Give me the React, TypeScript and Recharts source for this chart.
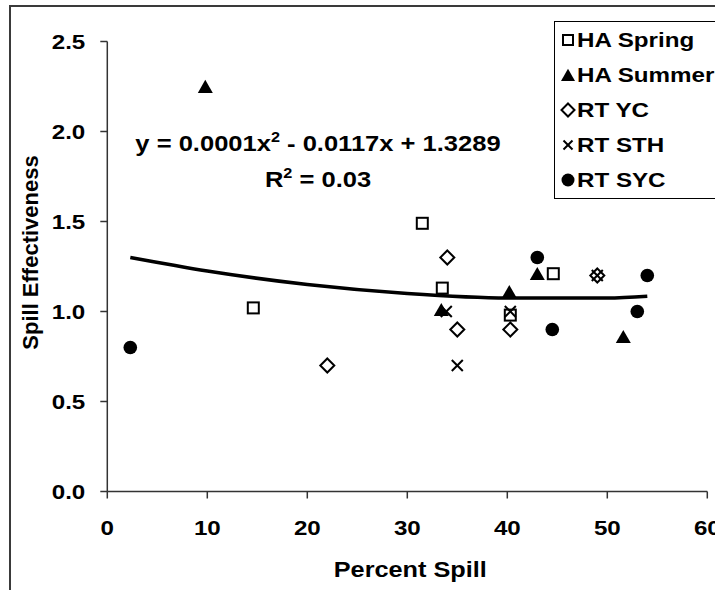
import React from 'react';
import { ComposedChart, Scatter, Line, XAxis, YAxis, Label } from 'recharts';

// values
const haSpringX = [14.6, 31.5, 33.5, 40.3, 44.6];
const haSpringY = [1.02, 1.49, 1.13, 0.98, 1.21];
const haSummerX = [9.8, 33.4, 40.2, 43.0, 51.6];
const haSummerY = [2.25, 1.01, 1.11, 1.21, 0.86];
const rtYcX = [22.0, 34.0, 35.0, 40.3, 49.0];
const rtYcY = [0.7, 1.3, 0.9, 0.9, 1.2];
const rtSthX = [33.9, 35.0, 40.3, 49.0];
const rtSthY = [1.0, 0.7, 1.0, 1.2];
const rtSycX = [2.3, 43.0, 44.5, 53.0, 54.0];
const rtSycY = [0.8, 1.3, 0.9, 1.0, 1.2];

// polynomial trendline
const trendX = [2.3, 10, 20, 30, 40, 50, 54];
const trendY = [1.3, 1.225, 1.15, 1.1, 1.075, 1.075, 1.085];

const seriesNames = ['HA Spring', 'HA Summer', 'RT YC', 'RT STH', 'RT SYC'];
const xTicks = [0, 10, 20, 30, 40, 50, 60];
const yTicks = [0, 0.5, 1, 1.5, 2, 2.5];

const zip = (xs: number[], ys: number[]) => xs.map((x, i) => ({ x, y: ys[i] }));

const FONT = '"Liberation Sans", Arial, sans-serif';
const STRETCH = 1.15;

// marker shapes (Excel style)
const SquareMark = ({ cx, cy, s = 5.5 }: any) => (
    <rect x={cx - s} y={cy - s} width={s * 2} height={s * 2} fill="#fff" stroke="#000" strokeWidth={2} />
);
const TriangleMark = ({ cx, cy, s = 7.5 }: any) => (
    <polygon points={`${cx},${cy - s * 0.9} ${cx + s},${cy + s * 0.85} ${cx - s},${cy + s * 0.85}`} fill="#000" />
);
const DiamondMark = ({ cx, cy, s = 7 }: any) => (
    <polygon
        points={`${cx},${cy - s} ${cx + s},${cy} ${cx},${cy + s} ${cx - s},${cy}`}
        fill="#fff"
        stroke="#000"
        strokeWidth={2}
    />
);
const XMark = ({ cx, cy, s = 5.5 }: any) => (
    <g stroke="#000" strokeWidth={2}>
        <line x1={cx - s} y1={cy - s} x2={cx + s} y2={cy + s} />
        <line x1={cx - s} y1={cy + s} x2={cx + s} y2={cy - s} />
    </g>
);
const CircleMark = ({ cx, cy, s = 6.8 }: any) => <circle cx={cx} cy={cy} r={s} fill="#000" />;

const markers = [SquareMark, TriangleMark, DiamondMark, XMark, CircleMark];
const legendSizes = [5, 7, 6.5, 4.5, 6.5];

const XTick = ({ x, y, payload }: any) => (
    <text
        transform={`translate(${x},${y + 34}) scale(${STRETCH},1)`}
        textAnchor="middle"
        fontSize={21}
        fontWeight="bold"
        fontFamily={FONT}
        fill="#000"
    >
        {payload.value}
    </text>
);

const YTick = ({ x, y, payload }: any) => (
    <text
        transform={`translate(${x},${y + 7.5}) scale(${STRETCH},1)`}
        textAnchor="end"
        fontSize={21}
        fontWeight="bold"
        fontFamily={FONT}
        fill="#000"
    >
        {Number(payload.value).toFixed(1)}
    </text>
);

export default function App() {
    const axisStroke = { stroke: '#333', strokeWidth: 1.5 };

    return (
        <div
            style={{
                position: 'absolute',
                left: 0,
                top: 0,
                width: 715,
                height: 590,
                overflow: 'hidden',
                background: '#fff',
                fontFamily: FONT,
            }}
        >
            {/* chart area border, cropped at right and bottom */}
            <div
                style={{
                    position: 'absolute',
                    left: 9,
                    top: 5,
                    width: 800,
                    height: 700,
                    border: '2px solid #3a3a3a',
                }}
            />

            <ComposedChart
                width={715}
                height={590}
                margin={{ top: 41.5, right: 7.7, bottom: 0, left: 0 }}
                style={{ position: 'absolute', left: 0, top: 0 }}
            >
                <XAxis
                    type="number"
                    dataKey="x"
                    domain={[0, 60]}
                    ticks={xTicks}
                    height={98.5}
                    tickSize={7}
                    tickMargin={2}
                    axisLine={axisStroke}
                    tickLine={axisStroke}
                    tick={<XTick />}
                    interval={0}
                >
                    <Label
                        content={({ viewBox }: any) => (
                            <text
                                transform={`translate(${viewBox.x + viewBox.width / 2 + 3},${viewBox.y + 85}) scale(${STRETCH},1)`}
                                textAnchor="middle"
                                fontSize={22}
                                fontWeight="bold"
                                fontFamily={FONT}
                                fill="#000"
                            >
                                Percent Spill
                            </text>
                        )}
                    />
                </XAxis>
                <YAxis
                    type="number"
                    dataKey="y"
                    domain={[0, 2.5]}
                    ticks={yTicks}
                    width={107.3}
                    tickSize={7}
                    tickMargin={15}
                    axisLine={axisStroke}
                    tickLine={axisStroke}
                    tick={<YTick />}
                    interval={0}
                >
                    <Label
                        content={({ viewBox }: any) => (
                            <text
                                transform={`translate(38,${viewBox.y + viewBox.height / 2 - 14}) rotate(-90)`}
                                textAnchor="middle"
                                fontSize={22}
                                fontWeight="bold"
                                fontFamily={FONT}
                                fill="#000"
                            >
                                Spill Effectiveness
                            </text>
                        )}
                    />
                </YAxis>

                <Line
                    data={zip(trendX, trendY)}
                    dataKey="y"
                    type="monotone"
                    stroke="#000"
                    strokeWidth={3.5}
                    dot={false}
                    activeDot={false}
                    isAnimationActive={false}
                />
                <Scatter name={seriesNames[0]} data={zip(haSpringX, haSpringY)} shape={<SquareMark />} isAnimationActive={false} />
                <Scatter name={seriesNames[1]} data={zip(haSummerX, haSummerY)} shape={<TriangleMark />} isAnimationActive={false} />
                <Scatter name={seriesNames[2]} data={zip(rtYcX, rtYcY)} shape={<DiamondMark />} isAnimationActive={false} />
                <Scatter name={seriesNames[3]} data={zip(rtSthX, rtSthY)} shape={<XMark />} isAnimationActive={false} />
                <Scatter name={seriesNames[4]} data={zip(rtSycX, rtSycY)} shape={<CircleMark />} isAnimationActive={false} />
            </ComposedChart>

            {/* trendline equation */}
            <div
                style={{
                    position: 'absolute',
                    left: 318,
                    top: 126,
                    transform: `translateX(-50%) scaleX(1.16)`,
                    fontSize: 22,
                    fontWeight: 'bold',
                    lineHeight: '36px',
                    textAlign: 'center',
                    whiteSpace: 'nowrap',
                    color: '#000',
                }}
            >
                <div>
                    y = 0.0001x<sup style={{ fontSize: 14, lineHeight: 0, verticalAlign: 9 }}>2</sup> - 0.0117x + 1.3289
                </div>
                <div>
                    R<sup style={{ fontSize: 14, lineHeight: 0, verticalAlign: 9 }}>2</sup> = 0.03
                </div>
            </div>

            {/* legend */}
            <div
                style={{
                    position: 'absolute',
                    left: 554,
                    top: 21,
                    width: 200,
                    height: 178,
                    border: '1px solid #000',
                    background: '#fff',
                    boxSizing: 'border-box',
                }}
            >
                {seriesNames.map((name, i) => {
                    const Mark = markers[i];
                    return (
                        <div key={name} style={{ height: 35.2, display: 'flex', alignItems: 'center', position: 'relative' }}>
                            <svg width={20} height={20} style={{ position: 'absolute', left: 3 }}>
                                <Mark cx={10} cy={10} s={legendSizes[i]} />
                            </svg>
                            <span
                                style={{
                                    position: 'absolute',
                                    left: 22,
                                    fontSize: 21,
                                    fontWeight: 'bold',
                                    whiteSpace: 'nowrap',
                                    transform: `scaleX(${STRETCH})`,
                                    transformOrigin: 'left center',
                                }}
                            >
                                {name}
                            </span>
                        </div>
                    );
                })}
            </div>
        </div>
    );
}
